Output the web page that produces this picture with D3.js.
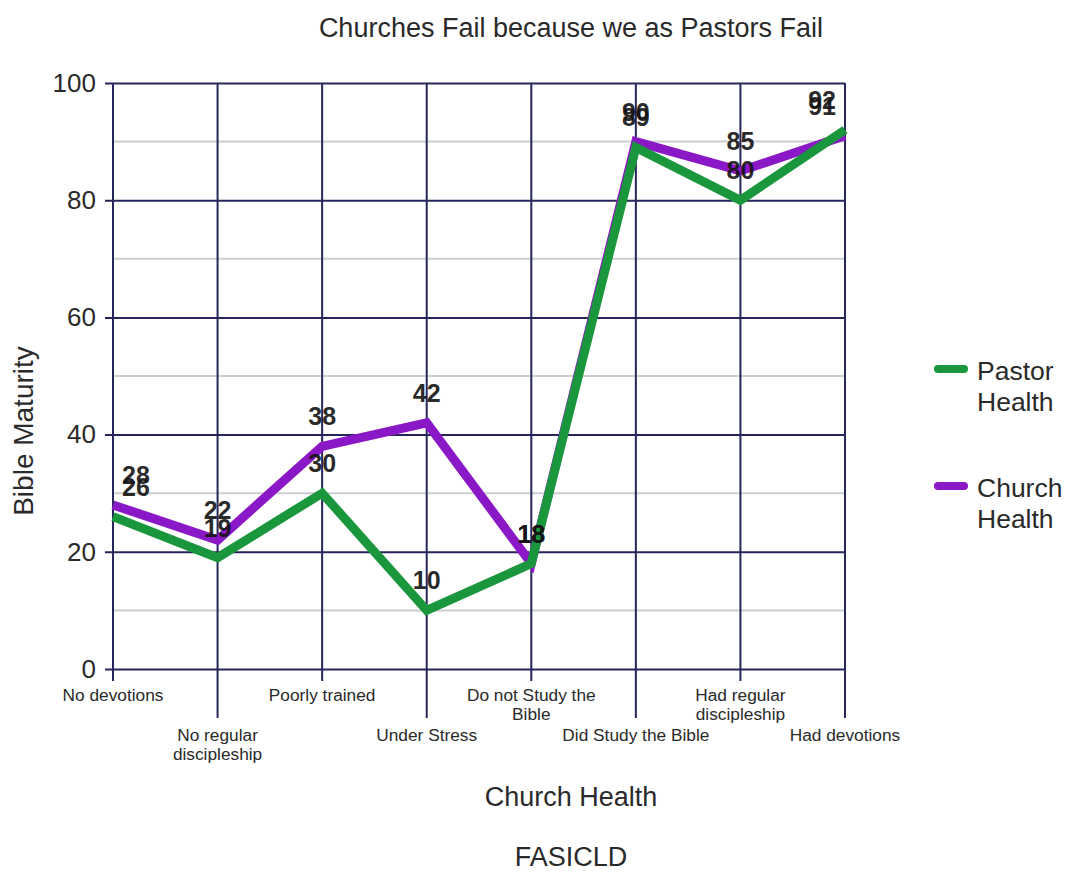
<!DOCTYPE html>
<html>
<head>
<meta charset="utf-8">
<script src="https://cdn.jsdelivr.net/npm/d3@7"></script>
<style>
  html, body { margin: 0; padding: 0; background: #fff; }
  svg { display: block; font-family: "Liberation Sans", Arial, sans-serif; }
</style>
</head>
<body>
<svg id="chart" width="1071" height="878"></svg>
<script>
// Categories along the x axis ("\n" marks a line break in the label)
const categories = [
  "No devotions",
  "No regular\ndiscipleship",
  "Poorly trained",
  "Under Stress",
  "Do not Study the\nBible",
  "Did Study the Bible",
  "Had regular\ndiscipleship",
  "Had devotions"
];
const pastorHealth = [26, 19, 30, 10, 18, 89, 80, 92];
const churchHealth = [28, 22, 38, 42, 18, 90, 85, 91];
const seriesNames = ["Pastor\nHealth", "Church\nHealth"];
const yTicks = [0, 20, 40, 60, 80, 100];
const yMinorTicks = [10, 30, 50, 70, 90];

const colors = { pastor: "#1a963c", church: "#8a18c6" };
const gridDark = "#26265c";
const gridLight = "#cdcdd4";
const textColor = "#2a2a2a";

const svg = d3.select("#chart");
const plotLeft = 113, plotRight = 845, plotTop = 83, plotBottom = 669;

const x = d3.scalePoint().domain(d3.range(categories.length)).range([plotLeft, plotRight]);
const y = d3.scaleLinear().domain([0, 100]).range([plotBottom, plotTop]);

// Title
svg.append("text")
  .attr("x", 571).attr("y", 37)
  .attr("text-anchor", "middle")
  .attr("font-size", 27)
  .attr("fill", textColor)
  .text("Churches Fail because we as Pastors Fail");

// Minor horizontal grid
svg.append("g")
  .selectAll("line")
  .data(yMinorTicks)
  .join("line")
  .attr("x1", plotLeft).attr("x2", plotRight)
  .attr("y1", d => y(d)).attr("y2", d => y(d))
  .attr("stroke", gridLight).attr("stroke-width", 2);

// Vertical grid, one per category; odd ones reach down to the lower label row
svg.append("g")
  .selectAll("line")
  .data(d3.range(categories.length))
  .join("line")
  .attr("x1", d => x(d)).attr("x2", d => x(d))
  .attr("y1", plotTop)
  .attr("y2", d => d % 2 ? 718 : 681)
  .attr("stroke", gridDark).attr("stroke-width", 2);

// Y axis with major grid lines
const yAxis = svg.append("g")
  .attr("transform", `translate(${plotLeft},0)`)
  .call(d3.axisLeft(y).tickValues(yTicks).tickSize(8).tickPadding(9));
yAxis.select(".domain").remove();
yAxis.selectAll(".tick line")
  .attr("x2", plotRight - plotLeft).attr("x1", -8)
  .attr("stroke", gridDark).attr("stroke-width", 2);
yAxis.selectAll(".tick text")
  .attr("font-size", 26)
  .attr("font-family", "Liberation Sans, Arial, sans-serif")
  .attr("fill", textColor);

// X category labels, alternating between two rows
const xLabels = svg.append("g");
categories.forEach((c, i) => {
  const lines = c.split("\n");
  const t = xLabels.append("text")
    .attr("text-anchor", "middle")
    .attr("font-size", 17.3)
    .attr("fill", textColor);
  const y0 = i % 2 ? 741 : 701;
  lines.forEach((ln, k) => {
    t.append("tspan").attr("x", x(i)).attr("y", y0 + k * 19).text(ln);
  });
});

// Series lines: church first, pastor on top
const line = d3.line().x((d, i) => x(i)).y(d => y(d));
svg.append("path").datum(churchHealth)
  .attr("d", line).attr("fill", "none")
  .attr("stroke", colors.church).attr("stroke-width", 9);
svg.append("path").datum(pastorHealth)
  .attr("d", line).attr("fill", "none")
  .attr("stroke", colors.pastor).attr("stroke-width", 9);

// Value labels above each point
function valueLabels(values) {
  svg.append("g")
    .selectAll("text")
    .data(values)
    .join("text")
    .attr("x", (d, i) => i === 0 ? x(i) + 9 : i === values.length - 1 ? x(i) - 9 : x(i))
    .attr("y", d => y(d) - 21)
    .attr("text-anchor", (d, i) => i === 0 ? "start" : i === values.length - 1 ? "end" : "middle")
    .attr("font-size", 25)
    .attr("font-weight", "bold")
    .attr("fill", "#141414")
    .attr("fill-opacity", 0.92)
    .text(d => d);
}
valueLabels(churchHealth);
valueLabels(pastorHealth);

// Axis titles
svg.append("text")
  .attr("transform", "translate(33,431) rotate(-90)")
  .attr("text-anchor", "middle")
  .attr("font-size", 28)
  .attr("fill", textColor)
  .text("Bible Maturity");
svg.append("text")
  .attr("x", 571).attr("y", 806)
  .attr("text-anchor", "middle")
  .attr("font-size", 27)
  .attr("fill", textColor)
  .text("Church Health");
svg.append("text")
  .attr("x", 571).attr("y", 866)
  .attr("text-anchor", "middle")
  .attr("font-size", 27)
  .attr("fill", textColor)
  .text("FASICLD");

// Legend
const legend = svg.append("g");
[[colors.pastor, 369, 380], [colors.church, 486, 497]].forEach(([col, ly, ty], i) => {
  legend.append("line")
    .attr("x1", 938).attr("x2", 964)
    .attr("y1", ly).attr("y2", ly)
    .attr("stroke", col).attr("stroke-width", 8)
    .attr("stroke-linecap", "round");
  const t = legend.append("text").attr("font-size", 26.5).attr("fill", textColor);
  seriesNames[i].split("\n").forEach((ln, k) => {
    t.append("tspan").attr("x", 977).attr("y", ty + k * 31).text(ln);
  });
});
</script>
</body>
</html>
